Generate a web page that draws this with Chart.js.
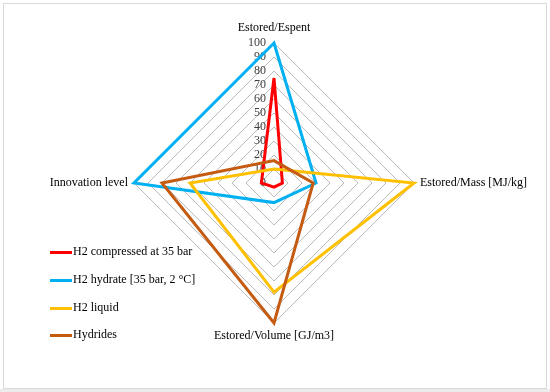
<!DOCTYPE html>
<html>
<head>
<meta charset="utf-8">
<script src="https://cdn.jsdelivr.net/npm/chart.js@4/dist/chart.umd.min.js"></script>
<style>
  html, body { margin: 0; padding: 0; background: #fff; }
  #wrap { position: relative; width: 550px; height: 392px; overflow: hidden; }
  #frame { position: absolute; left: 3px; top: 3px; width: 542px; height: 384px; border: 1px solid #d9d9d9; }
  #strip { position: absolute; left: 0; top: 389px; width: 550px; height: 3px; background: #ececec; }
  canvas { position: absolute; left: 0; top: 0; }
  #legend { position: absolute; left: 50px; top: 244px; font: 12px "Liberation Serif", serif; color: #000; }
  .item { height: 27.8px; display: flex; align-items: flex-start; }
  .swatch { width: 22px; height: 3px; margin-top: 7px; margin-right: 1px; }
</style>
</head>
<body>
<div id="wrap">
  <div id="frame"></div>
  <div id="strip"></div>
  <canvas id="radar" width="550" height="392"></canvas>
  <div id="legend"></div>
</div>
<script>
const axisLabels = ["Estored/Espent", "Estored/Mass [MJ/kg]", "Estored/Volume [GJ/m3]", "Innovation level"];
const seriesNames = ["H2 compressed at 35 bar", "H2 hydrate [35 bar, 2 °C]", "H2 liquid", "Hydrides"];
const compressed = [75, 6, 3, 9];
const hydrate = [100, 30, 14, 100];
const liquid = [10, 100, 78, 60];
const hydrides = [16, 28, 100, 80];
const colors = ["#ff0000", "#00b0f0", "#ffc000", "#c55a11"];

const seriesValues = [compressed, hydrate, liquid, hydrides];

// tick labels left of the vertical axis and axis titles, Excel style
const excelLabels = {
    id: "excelLabels",
    beforeDatasetsDraw(chart) {
        const r = chart.scales.r;
        const ctx = chart.ctx;
        ctx.save();
        ctx.font = '12px "Liberation Serif", serif';
        ctx.fillStyle = "#404040";
        ctx.textAlign = "right";
        ctx.textBaseline = "middle";
        r.ticks.forEach(t => {
            ctx.fillText(t.label, r.xCenter - 8, r.yCenter - r.getDistanceFromCenterForValue(t.value));
        });
        ctx.restore();
    },
    afterDraw(chart) {
        const r = chart.scales.r;
        const ctx = chart.ctx;
        const aligns = [["center", "bottom", 9], ["left", "middle", 6], ["center", "top", 7], ["right", "middle", 6]];
        ctx.save();
        ctx.font = '12px "Liberation Serif", serif';
        ctx.fillStyle = "#000";
        axisLabels.forEach((lab, i) => {
            const p = r.getPointPosition(i, r.drawingArea + aligns[i][2]);
            ctx.textAlign = aligns[i][0];
            ctx.textBaseline = aligns[i][1];
            ctx.fillText(lab, p.x, p.y);
        });
        ctx.restore();
    }
};

new Chart(document.getElementById("radar"), {
    type: "radar",
    data: {
        labels: axisLabels,
        datasets: seriesValues.map((vals, i) => ({
            label: seriesNames[i],
            data: vals,
            borderColor: colors[i],
            backgroundColor: colors[i],
            borderWidth: 3,
            fill: false,
            pointRadius: 0,
            tension: 0,
            order: 3 - i
        }))
    },
    options: {
        responsive: false,
        animation: false,
        layout: { padding: { left: 134, right: 136, top: 43, bottom: 69 } },
        scales: {
            r: {
                min: 0,
                max: 100,
                ticks: { stepSize: 10, display: false },
                grid: { color: "#a6a6a6", lineWidth: 0.75 },
                angleLines: { display: false },
                pointLabels: { display: false }
            }
        },
        plugins: {
            legend: { display: false },
            tooltip: { enabled: false }
        }
    },
    plugins: [excelLabels]
});

const legend = document.getElementById("legend");
seriesNames.forEach((name, i) => {
    const row = document.createElement("div");
    row.className = "item";
    const sw = document.createElement("span");
    sw.className = "swatch";
    sw.style.background = colors[i];
    const tx = document.createElement("span");
    tx.textContent = name;
    row.appendChild(sw);
    row.appendChild(tx);
    legend.appendChild(row);
});
</script>
</body>
</html>
